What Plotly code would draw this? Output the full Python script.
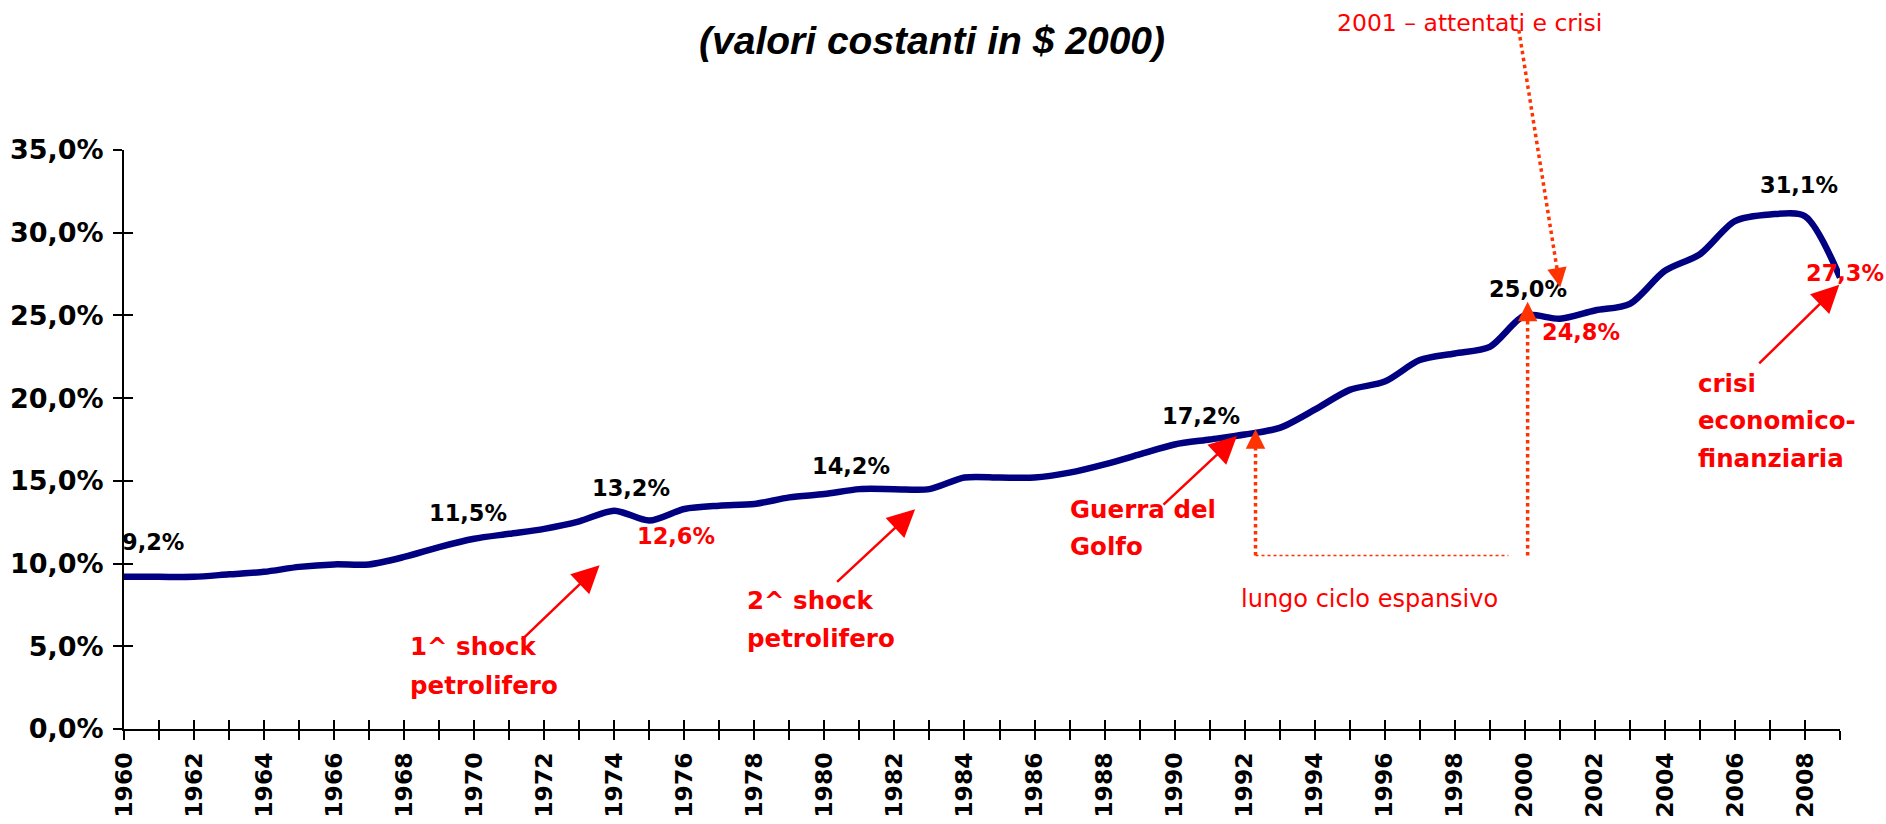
import plotly.graph_objects as go

# ---------------- data ----------------
years = list(range(1960, 2010))
share = [9.2, 9.2, 9.2, 9.35, 9.5, 9.8, 9.95, 9.95, 10.4, 11.0,
         11.5, 11.8, 12.1, 12.55, 13.2, 12.6, 13.3, 13.5, 13.6, 14.0,
         14.2, 14.5, 14.5, 14.5, 15.2, 15.2, 15.2, 15.5, 16.0, 16.6,
         17.2, 17.5, 17.8, 18.2, 19.3, 20.5, 21.0, 22.3, 22.7, 23.1,
         25.0, 24.8, 25.3, 25.7, 27.7, 28.7, 30.7, 31.1, 31.0, 27.3]

y_ticks = [0, 5, 10, 15, 20, 25, 30, 35]
y_tick_labels = [f"{v:.1f}%".replace(".", ",") for v in y_ticks]
x_tick_labels = [str(y) if y % 2 == 0 else "" for y in years]

# labelled points: year, colour, pixel shift (x, y)
label_years = [1960, 1970, 1974, 1975, 1980, 1990, 2000, 2001, 2007, 2009]
label_colors = ["black", "black", "black", "red", "black", "black",
                "black", "red", "black", "red"]
label_xshift = [29, -6, 17, 27, 27, 26, 3, 21, 29, 5]
label_yshift = [35, 26, 23, -15, 28, 28, 26, -13, 30, 4]

NAVY = "#000080"
RED = "#FF0000"
ORANGE = "#FF3300"
FONT = "DejaVu Sans"

X0, X1 = years[0], years[-1]


def px_x(yr):
    """year -> paper x (x axis spans the whole paper domain)"""
    return (yr - X0) / (X1 - X0)


fig = go.Figure()

fig.add_trace(go.Scatter(
    x=years, y=share, mode="lines",
    line=dict(color=NAVY, width=6.5, shape="spline", smoothing=0.8),
    showlegend=False, hoverinfo="x+y",
))
# invisible trace carrying the overlay axes (inside half of the cross ticks)
fig.add_trace(go.Scatter(
    x=[years[0]], y=[share[0]], xaxis="x2", yaxis="y2", mode="markers",
    marker=dict(opacity=0), showlegend=False, hoverinfo="skip",
))

annotations = []

# data labels
for yr, col, xs, ys in zip(label_years, label_colors, label_xshift, label_yshift):
    v = share[years.index(yr)]
    annotations.append(dict(
        x=yr, y=v, xref="x", yref="y", showarrow=False,
        text=f"{v:.1f}%".replace(".", ","),
        xshift=xs, yshift=ys, xanchor="center", yanchor="middle",
        font=dict(family=FONT, size=22.5, color=col, weight="bold"),
    ))

# event texts (one annotation per line)
event_lines = [
    ("1^ shock", 1968.10, 4.96), ("petrolifero", 1968.10, 2.66),
    ("2^ shock", 1977.72, 7.77), ("petrolifero", 1977.72, 5.50),
    ("Guerra del", 1986.96, 13.27), ("Golfo", 1986.96, 11.05),
    ("crisi", 2004.89, 20.89), ("economico-", 2004.89, 18.62),
    ("finanziaria", 2004.89, 16.38),
]
for txt, xx, yy in event_lines:
    annotations.append(dict(
        x=xx, y=yy, xref="x", yref="y", showarrow=False, text=txt,
        xanchor="left", yanchor="middle",
        font=dict(family=FONT, size=24.5, color=RED, weight="bold"),
    ))

# solid red arrows (tip, tail)
arrows = [
    ((1973.58, 9.90), (1971.32, 5.31)),
    ((1982.59, 13.28), (1980.32, 8.81)),
    ((1991.78, 17.71), (1989.64, 13.48)),
    ((2008.98, 26.85), (2006.65, 22.01)),
]
for (tx, ty), (ax, ay) in arrows:
    annotations.append(dict(
        x=tx, y=ty, xref="x", yref="y", ax=ax, ay=ay, axref="x", ayref="y",
        text="", showarrow=True, arrowhead=2, arrowsize=2.2, arrowwidth=2.5,
        arrowcolor=RED,
    ))

# arrowheads for dotted lines
for tx, ty, ax, ay in [(1992.31, 18.12, 0, 15),
                       (2000.08, 25.83, 0, 15),
                       (2001.01, 26.7, -2.5, -15)]:
    annotations.append(dict(
        x=tx, y=ty, xref="x", yref="y", ax=ax, ay=ay,
        text="", showarrow=True, arrowhead=2, arrowsize=1.3, arrowwidth=3,
        arrowcolor=ORANGE,
    ))

annotations.append(dict(
    x=1995.56, y=7.86, xref="x", yref="y", showarrow=False,
    text="lungo ciclo espansivo", xanchor="center", yanchor="middle",
    font=dict(family=FONT, size=24, color=RED),
))
annotations.append(dict(
    x=px_x(1998.41), y=1.219, xref="paper", yref="paper", showarrow=False,
    text="2001 \u2013 attentati e crisi", xanchor="center", yanchor="middle",
    font=dict(family=FONT, size=23.5, color=RED),
))

shapes = [
    dict(type="line", xref="x", yref="y", x0=1992.31, x1=1992.31, y0=10.49, y1=17.5,
         line=dict(color=ORANGE, width=3.5, dash="dot")),
    dict(type="line", xref="x", yref="y", x0=2000.08, x1=2000.08, y0=10.49, y1=25.2,
         line=dict(color=ORANGE, width=3.5, dash="dot")),
    dict(type="line", xref="x", yref="y", x0=1992.31, x1=1999.53, y0=10.49, y1=10.49,
         line=dict(color=ORANGE, width=1.5, dash="dot")),
    dict(type="line", xref="paper", yref="paper",
         x0=px_x(1999.83), x1=px_x(2000.94), y0=1.207, y1=0.787,
         line=dict(color=ORANGE, width=3.5, dash="dot")),
]

tick_common = dict(ticklen=9, tickwidth=2, tickcolor="black",
                   showgrid=False, zeroline=False, automargin=False)

fig.update_layout(
    width=1886, height=824,
    paper_bgcolor="white", plot_bgcolor="white",
    margin=dict(l=124, r=46, t=150, b=95),
    showlegend=False,
    title=dict(
        text="(valori costanti in $ 2000)",
        x=0.4942, y=0.9514, xanchor="center", yanchor="middle",
        xref="container", yref="container", automargin=False,
        font=dict(family="Liberation Sans", size=39, color="black",
                  weight="bold", style="italic"),
    ),
    xaxis=dict(
        range=[X0, X1], tickvals=years, ticktext=x_tick_labels,
        tickangle=-90, ticks="outside", showline=True, linecolor="black",
        linewidth=2, ticklabelstandoff=3,
        tickfont=dict(family=FONT, size=23.5, color="black", weight="bold"),
        **tick_common,
    ),
    yaxis=dict(
        range=[0, 35], tickvals=y_ticks, ticktext=y_tick_labels,
        ticks="outside", showline=True, linecolor="black", linewidth=2,
        ticklabelstandoff=4,
        tickfont=dict(family=FONT, size=27, color="black", weight="bold"),
        **tick_common,
    ),
    xaxis2=dict(
        overlaying="x", anchor="y2", side="bottom", range=[X0, X1],
        tickvals=years, ticks="inside", showticklabels=False, showline=False,
        **tick_common,
    ),
    yaxis2=dict(
        overlaying="y", anchor="x2", side="left", range=[0, 35],
        tickvals=y_ticks, ticks="inside", showticklabels=False, showline=False,
        **tick_common,
    ),
    annotations=annotations,
    shapes=shapes,
)

fig.write_html(
    "out.html",
    config={"displayModeBar": False},
    post_script="document.body.style.margin='0';document.body.style.overflow='hidden';",
)
